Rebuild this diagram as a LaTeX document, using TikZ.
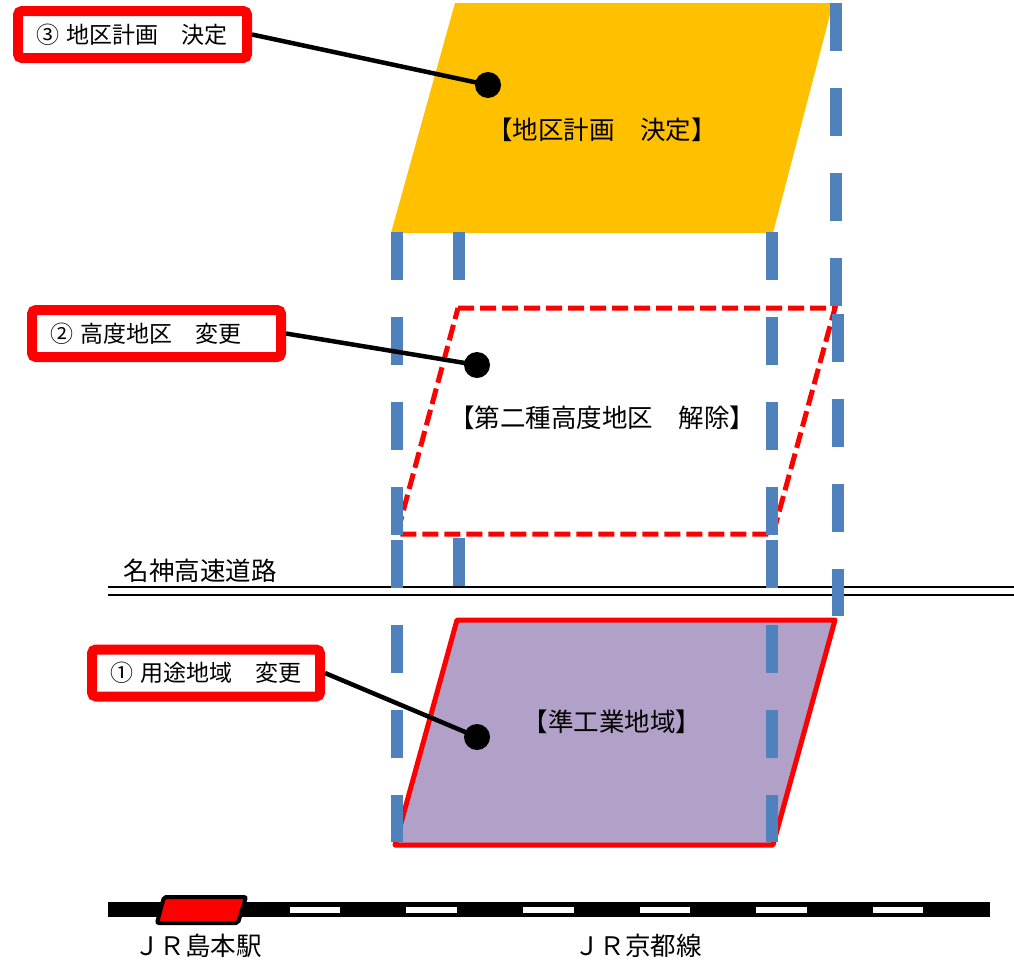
\documentclass[tikz,border=0pt]{standalone}
\usepackage{fontspec}
\setmainfont{Noto Sans CJK JP}
\definecolor{jblue}{HTML}{4F81BD}
\definecolor{jorange}{HTML}{FFC000}
\definecolor{jpurple}{HTML}{B1A0C7}
\begin{document}
\begin{tikzpicture}[x=1pt,y=-1pt,
  bluedash/.style={draw=jblue, line width=12pt, dash pattern=on 48pt off 37pt},
  labelbox/.style={draw=red, line width=10pt, rounded corners=4pt, fill=white, inner xsep=18pt, inner ysep=0pt, minimum height=47pt, align=left, font=\fontsize{23}{27}\selectfont},
  dot/.style={circle, fill=black, minimum size=26pt, inner sep=0pt},
  leader/.style={draw=black, line width=4.5pt},
  bigtext/.style={font=\fontsize{25.5}{30}\selectfont, inner sep=0pt},
  railline/.style={draw=black, line width=4.5pt},
  hwline/.style={draw=black, line width=2pt}]
\useasboundingbox (0,0) rectangle (1014,964);
% areas
\fill[jorange] (455,3) -- (833,3) -- (773,233) -- (391,233) -- cycle;
\filldraw[fill=jpurple, draw=red, line width=5pt, line join=round] (457,620) -- (835,620) -- (773,845) -- (395,845) -- cycle;
\draw[red, line width=5pt, dash pattern=on 16pt off 6pt] (458,308) -- (835,308) -- (773,534) -- (397,534) -- cycle;
% highway
\draw[hwline] (108,587) -- (1014,587);
\draw[hwline] (108,595) -- (1014,595);
% blue guide lines
\draw[bluedash] (397,232) -- (397,535);
\draw[bluedash] (397,540) -- (397,842);
\draw[bluedash] (459,232) -- (459,307);
\draw[bluedash] (459,538) -- (459,600);
\draw[bluedash] (772,232) -- (772,535);
\draw[bluedash] (772,540) -- (772,842);
\draw[bluedash] (836,3) -- (836,306);
\draw[bluedash] (838,314) -- (838,616);
% railway
\draw[railline] (108,904.25) -- (990,904.25);
\draw[railline] (108,914.75) -- (990,914.75);
\foreach \a/\b in {108/290, 340/406, 457/523, 574/640, 690/756, 807/873, 923/990}
  \fill[black] (\a,902) rectangle (\b,917);
\filldraw[fill=red, draw=black, line width=4pt, rounded corners=2pt] (164,897) -- (246,897) -- (238,923) -- (157,923) -- cycle;
% texts
\node[bigtext] (t3) at (602,130) {【地区計画　決定】};
\node[bigtext] (t2) at (602,418) {【第二種高度地区　解除】};
\node[bigtext] (t1) at (612,722) {【準工業地域】};
\node[bigtext] (hw) at (200,571) {名神高速道路};
\node[bigtext] (st) at (198,946) {ＪＲ島本駅};
\node[bigtext] (ln) at (638,946) {ＪＲ京都線};
% label boxes
\node[labelbox, text width=193pt] (b3) at (132.5,34.5) {③ 地区計画　決定};
\node[labelbox, text width=213pt] (b2) at (156.5,333.5) {② 高度地区　変更};
\node[labelbox, text width=192pt] (b1) at (206,673) {① 用途地域　変更};
% dots
\node[dot] (d3) at (488,85) {};
\node[dot] (d2) at (477,365) {};
\node[dot] (d1) at (477,737) {};
% leaders
\draw[leader] (b3.east) -- (d3.center);
\draw[leader] (b2.east) -- (d2.center);
\draw[leader] (b1.east) -- (d1.center);
\end{tikzpicture}
\end{document}
